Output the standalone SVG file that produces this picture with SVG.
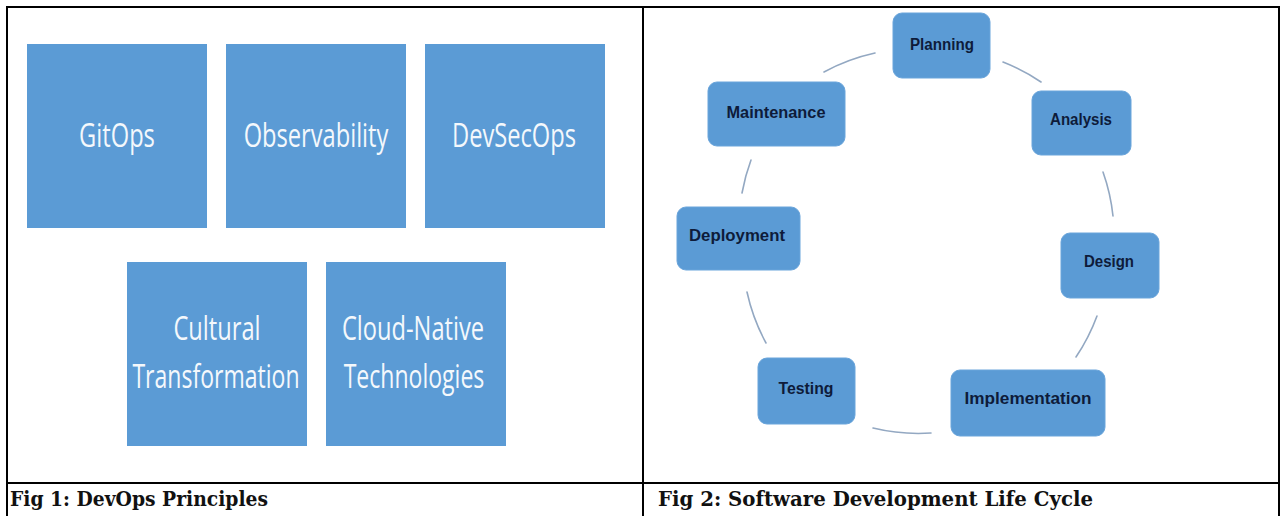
<svg xmlns="http://www.w3.org/2000/svg" width="1281" height="516" viewBox="0 0 1281 516">
  <style>
    .sq { fill: #5B9BD5; }
    .sqt { fill: #F4F8FC; font-family: "Open Sans", "Liberation Sans", sans-serif; font-weight: 400; font-size: 32px; text-anchor: middle; }
    .nd { fill: #5B9BD5; stroke: #6AA5DB; stroke-width: 1; }
    .ndt { fill: #0E1B3A; font-family: "Liberation Sans", Arial, sans-serif; font-weight: bold; font-size: 16px; text-anchor: middle; }
    .arc { fill: none; stroke: #93A8C2; stroke-width: 1.6; stroke-linecap: round; }
    .grid { stroke: #000; stroke-width: 2; fill: none; }
    .cap { fill: #111; font-family: "DejaVu Serif", "Liberation Serif", serif; font-weight: bold; font-size: 20.5px; }
  </style>
  <rect x="0" y="0" width="1281" height="516" fill="#FFFFFF"/>

  <!-- Table grid -->
  <g id="table">
    <line class="grid" x1="6" y1="7" x2="1280" y2="7"/>
    <line class="grid" x1="7" y1="6" x2="7" y2="516"/>
    <line class="grid" x1="643" y1="6" x2="643" y2="516"/>
    <line class="grid" x1="1279" y1="6" x2="1279" y2="516"/>
    <line class="grid" x1="6" y1="483" x2="1280" y2="483" stroke-width="2.5"/>
  </g>

  <!-- Fig 1: DevOps principles -->
  <g id="gitops">
    <rect class="sq" x="27" y="44" width="180" height="184"/>
    <text class="sqt" transform="translate(117 147) scale(0.74 1)" x="0" y="0">GitOps</text>
  </g>
  <g id="observability">
    <rect class="sq" x="226" y="44" width="180" height="184"/>
    <text class="sqt" transform="translate(316 147) scale(0.74 1)" x="0" y="0">Observability</text>
  </g>
  <g id="devsecops">
    <rect class="sq" x="425" y="44" width="180" height="184"/>
    <text class="sqt" transform="translate(514 147) scale(0.74 1)" x="0" y="0">DevSecOps</text>
  </g>
  <g id="cultural">
    <rect class="sq" x="127" y="262" width="180" height="184"/>
    <text class="sqt" transform="translate(217 340) scale(0.74 1)" x="0" y="0">Cultural</text>
    <text class="sqt" transform="translate(216 388) scale(0.72 1)" x="0" y="0">Transformation</text>
  </g>
  <g id="cloudnative">
    <rect class="sq" x="326" y="262" width="180" height="184"/>
    <text class="sqt" transform="translate(413 340) scale(0.74 1)" x="0" y="0">Cloud-Native</text>
    <text class="sqt" transform="translate(414 388) scale(0.72 1)" x="0" y="0">Technologies</text>
  </g>

  <!-- Fig 2: SDLC connectors -->
  <g id="connectors">
    <path class="arc" d="M 824 72 A 192 192 0 0 1 875 53"/>
    <path class="arc" d="M 1003 62 A 192 192 0 0 1 1041 82"/>
    <path class="arc" d="M 1103 172 A 192 192 0 0 1 1113 216"/>
    <path class="arc" d="M 1097 316 A 192 192 0 0 1 1076 357"/>
    <path class="arc" d="M 931 433 A 192 192 0 0 1 873 428"/>
    <path class="arc" d="M 766 343 A 192 192 0 0 1 747 292"/>
    <path class="arc" d="M 742 193 A 192 192 0 0 1 751 160"/>
  </g>

  <g id="planning">
    <rect class="nd" x="893" y="13" width="97" height="65" rx="9"/>
    <text class="ndt" x="942" y="50" textLength="64" lengthAdjust="spacingAndGlyphs">Planning</text>
  </g>
  <g id="analysis">
    <rect class="nd" x="1032" y="91" width="99" height="64" rx="9"/>
    <text class="ndt" x="1081" y="125" textLength="62" lengthAdjust="spacingAndGlyphs">Analysis</text>
  </g>
  <g id="design">
    <rect class="nd" x="1061" y="233" width="98" height="65" rx="9"/>
    <text class="ndt" x="1109" y="267" textLength="50" lengthAdjust="spacingAndGlyphs">Design</text>
  </g>
  <g id="implementation">
    <rect class="nd" x="951" y="370" width="154" height="66" rx="9"/>
    <text class="ndt" x="1028" y="404" textLength="127" lengthAdjust="spacingAndGlyphs">Implementation</text>
  </g>
  <g id="testing">
    <rect class="nd" x="758" y="358" width="97" height="66" rx="9"/>
    <text class="ndt" x="806" y="394" textLength="55" lengthAdjust="spacingAndGlyphs">Testing</text>
  </g>
  <g id="deployment">
    <rect class="nd" x="677" y="207" width="123" height="63" rx="9"/>
    <text class="ndt" x="737" y="241" textLength="96" lengthAdjust="spacingAndGlyphs">Deployment</text>
  </g>
  <g id="maintenance">
    <rect class="nd" x="708" y="82" width="137" height="64" rx="9"/>
    <text class="ndt" x="776" y="118" textLength="99" lengthAdjust="spacingAndGlyphs">Maintenance</text>
  </g>

  <!-- Captions -->
  <g id="captions">
    <text class="cap" x="10" y="506" textLength="258" lengthAdjust="spacingAndGlyphs">Fig 1: DevOps Principles</text>
    <text class="cap" x="658" y="506" textLength="435" lengthAdjust="spacingAndGlyphs">Fig 2: Software Development Life Cycle</text>
  </g>
</svg>
